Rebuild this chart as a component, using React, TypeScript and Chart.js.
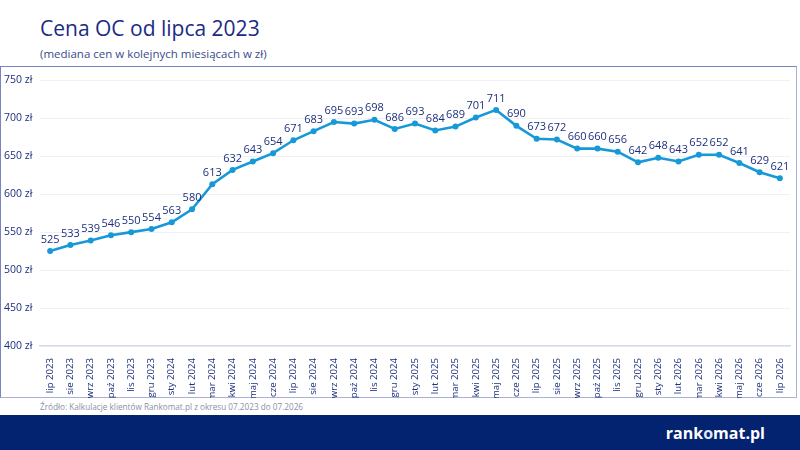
import React, { useEffect, useRef } from 'react';
import { Chart, registerables, type Plugin } from 'chart.js';

Chart.register(...registerables);

// Dane: mediana cen OC (zł) w kolejnych miesiącach
const months = [
  'lip 2023', 'sie 2023', 'wrz 2023', 'paź 2023', 'lis 2023', 'gru 2023',
  'sty 2024', 'lut 2024', 'mar 2024', 'kwi 2024', 'maj 2024', 'cze 2024',
  'lip 2024', 'sie 2024', 'wrz 2024', 'paź 2024', 'lis 2024', 'gru 2024',
  'sty 2025', 'lut 2025', 'mar 2025', 'kwi 2025', 'maj 2025', 'cze 2025',
  'lip 2025', 'sie 2025', 'wrz 2025', 'paź 2025', 'lis 2025', 'gru 2025',
  'sty 2026', 'lut 2026', 'mar 2026', 'kwi 2026', 'maj 2026', 'cze 2026',
  'lip 2026',
];

const prices = [
  525, 533, 539, 546, 550, 554,
  563, 580, 613, 632, 643, 654,
  671, 683, 695, 693, 698, 686,
  693, 684, 689, 701, 711, 690,
  673, 672, 660, 660, 656, 642,
  648, 643, 652, 652, 641, 629,
  621,
];

const yTicks = [400, 450, 500, 550, 600, 650, 700, 750];

const NAVY = '#1d2f7d';
const LINE = '#1799d8';
const FONT = '"Open Sans", sans-serif';

// Etykiety wartości nad punktami
const valueLabels: Plugin<'line'> = {
  id: 'valueLabels',
  afterDatasetsDraw(chart) {
    const { ctx } = chart;
    const meta = chart.getDatasetMeta(0);
    ctx.save();
    ctx.font = `11px ${FONT}`;
    ctx.fillStyle = NAVY;
    ctx.textAlign = 'center';
    ctx.textBaseline = 'bottom';
    meta.data.forEach((pt, i) => {
      ctx.fillText(String(prices[i]), pt.x, pt.y - 6);
    });
    ctx.restore();
  },
};

const PriceChart: React.FC = () => {
  const canvasRef = useRef<HTMLCanvasElement>(null);

  useEffect(() => {
    if (!canvasRef.current) return;
    const chart = new Chart(canvasRef.current, {
      type: 'line',
      data: {
        labels: months,
        datasets: [
          {
            data: prices,
            borderColor: LINE,
            backgroundColor: LINE,
            borderWidth: 2.6,
            pointRadius: 3,
            pointBackgroundColor: LINE,
            pointBorderWidth: 0,
            tension: 0,
          },
        ],
      },
      options: {
        animation: false,
        responsive: false,
        layout: { padding: { top: 9, right: 7, bottom: 0, left: 4 } },
        plugins: { legend: { display: false }, tooltip: { enabled: false } },
        scales: {
          x: {
            offset: true,
            grid: { display: false },
            border: { color: '#d6dbec', width: 1.5 },
            ticks: {
              color: NAVY,
              font: { size: 9.6, family: FONT },
              minRotation: 90,
              maxRotation: 90,
              autoSkip: false,
              padding: 4,
            },
            afterFit: (scale) => {
              scale.height = 52;
            },
          },
          y: {
            min: yTicks[0],
            max: yTicks[yTicks.length - 1],
            afterBuildTicks: (scale) => {
              scale.ticks = yTicks.map((v) => ({ value: v }));
            },
            grid: { color: '#eef0f6', drawTicks: false },
            border: { display: false },
            ticks: {
              color: NAVY,
              font: { size: 10.5, family: FONT },
              crossAlign: 'far',
              padding: 8,
              callback: (v) => `${v} zł`,
            },
            afterFit: (scale) => {
              scale.width = 36;
            },
          },
        },
      },
      plugins: [valueLabels],
    });
    return () => chart.destroy();
  }, []);

  return <canvas ref={canvasRef} width={797} height={332} />;
};

export default function App() {
  useEffect(() => {
    document.body.style.margin = '0';
  }, []);

  return (
    <div style={{ position: 'relative', width: 800, height: 450, background: '#fff', fontFamily: FONT, overflow: 'hidden' }}>
      <div style={{ position: 'absolute', left: 40, top: 14, fontSize: 21, color: '#1a2a86' }}>
        Cena OC od lipca 2023
      </div>
      <div style={{ position: 'absolute', left: 40, top: 46, fontSize: 11.5, color: '#3a4a8a' }}>
        (mediana cen w kolejnych miesiącach w zł)
      </div>
      <div
        style={{
          position: 'absolute', left: 0, top: 66, width: 797, height: 332,
          borderTop: '1.5px solid #7783c4', borderLeft: '1.5px solid #7783c4',
          borderRight: '1.5px solid #a9b1da', borderBottom: '1.5px solid #a9b1da',
          boxSizing: 'border-box',
        }}
      />
      <div style={{ position: 'absolute', left: 0, top: 66 }}>
        <PriceChart />
      </div>
      <div style={{ position: 'absolute', left: 40, top: 401, fontSize: 8.2, color: '#8a8fa8' }}>
        Źródło: Kalkulacje klientów Rankomat.pl z okresu 07.2023 do 07.2026
      </div>
      <div style={{ position: 'absolute', left: 0, top: 415, width: 800, height: 35, background: '#03226f' }}>
        <div style={{ position: 'absolute', right: 35, top: 7, fontSize: 16, fontWeight: 700, color: '#fff' }}>
          rank<span style={{ color: '#dfe8ff' }}>o</span>mat.pl
        </div>
      </div>
    </div>
  );
}
